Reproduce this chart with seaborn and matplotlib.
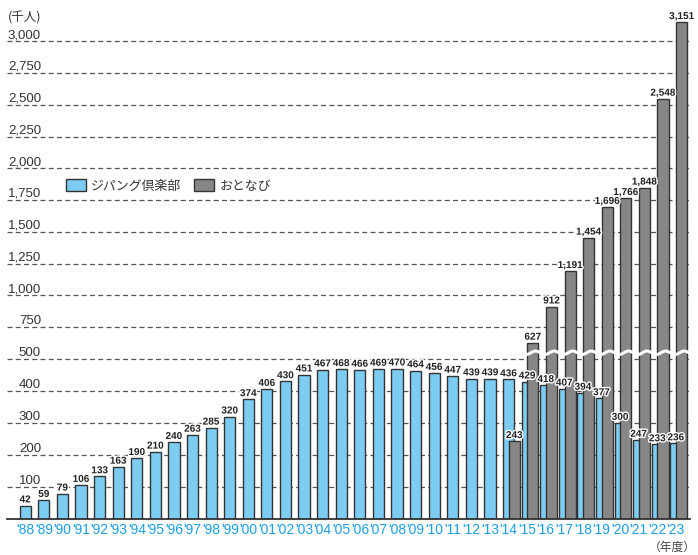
import numpy as np
import pandas as pd
import seaborn as sns
import matplotlib.pyplot as plt
import matplotlib.patheffects as pe
from matplotlib.patches import Patch
from matplotlib.ticker import NullLocator

# datos
anios = ["'88", "'89", "'90", "'91", "'92", "'93", "'94", "'95", "'96", "'97", "'98", "'99",
         "'00", "'01", "'02", "'03", "'04", "'05", "'06", "'07", "'08", "'09", "'10", "'11",
         "'12", "'13", "'14", "'15", "'16", "'17", "'18", "'19", "'20", "'21", "'22", "'23"]
zipangu = [42, 59, 79, 106, 133, 163, 190, 210, 240, 263, 285, 320,
           374, 406, 430, 451, 467, 468, 466, 469, 470, 464, 456, 447, 439, 439,
           436, 429, 418, 407, 394, 377, 300, 247, 233, 236]
otonabi_anios = ["'14", "'15", "'16", "'17", "'18", "'19", "'20", "'21", "'22", "'23"]
otonabi = [243, 627, 912, 1191, 1454, 1696, 1766, 1848, 2548, 3151]
ticks_y = [100, 200, 300, 400, 500, 750, 1000, 1250, 1500, 1750, 2000, 2250, 2500, 2750, 3000]

AZUL = '#7dcdf2'
GRIS = '#878787'
BORDE = '#333333'
ESTRECHA = ['Liberation Sans Narrow', 'Liberation Sans']
CJK = ['Noto Sans CJK JP', 'DejaVu Sans']

sns.set_style("white")
plt.rcParams['font.family'] = ['Liberation Sans', 'Noto Sans CJK JP']

# eje partido: 0-500 normal, arriba de 500 comprimido
K = 0.397
def adelante(v):
    v = np.asarray(v, dtype=float)
    return np.where(v <= 500, v, 500 + (v - 500) * K)

def inversa(t):
    t = np.asarray(t, dtype=float)
    return np.where(t <= 500, t, 500 + (t - 500) / K)

x_azul = np.arange(len(anios), dtype=float)
inicio = anios.index(otonabi_anios[0])
x_gris = x_azul[inicio:] + 0.31

df_z = pd.DataFrame({'x': x_azul, 'v': zipangu})
df_o = pd.DataFrame({'x': x_gris, 'v': otonabi})

fig = plt.figure(figsize=(6.98, 5.55), dpi=100)
ax = fig.add_axes([7 / 698, 36 / 555, 683 / 698, 503 / 555])

sns.barplot(data=df_z, x='x', y='v', native_scale=True, orient='x', width=0.6,
            color=AZUL, saturation=1, edgecolor=BORDE, linewidth=1.0, ax=ax)
sns.barplot(data=df_o, x='x', y='v', native_scale=True, orient='x', width=0.6,
            color=GRIS, saturation=1, edgecolor=BORDE, linewidth=1.0, ax=ax)

ax.set_yscale('function', functions=(adelante, inversa))
ax.set_ylim(0, 3200)
ax.set_xlim(-0.98, 35.76)
ax.set_xlabel('')
ax.set_ylabel('')

ax.set_yticks(ticks_y)
ax.yaxis.set_minor_locator(NullLocator())
ax.tick_params(axis='y', length=0, labelleft=False)
ax.yaxis.grid(True, linestyle=(0, (4, 2.6)), color='#555555', linewidth=0.9)
ax.xaxis.grid(False)
ax.set_axisbelow(True)

for lado in ['left', 'top', 'right']:
    ax.spines[lado].set_visible(False)
ax.spines['bottom'].set_color(BORDE)
ax.spines['bottom'].set_linewidth(1.3)

ax.set_xticks(x_azul, anios)
ax.tick_params(axis='x', length=0, pad=3, labelcolor='#1a9fe3', labelsize=10)
for t in ax.get_xticklabels():
    t.set_fontfamily(ESTRECHA)

# etiquetas del eje y encima de las lineas
for tk in ticks_y:
    ax.annotate(f"{tk:,}", xy=(0.0498, tk), xycoords=ax.get_yaxis_transform(),
                xytext=(0, 2.4), textcoords='offset points', ha='right', va='baseline',
                fontsize=9.5, color='#333333')

# linea ondulada de corte
xs = np.linspace(x_gris[1] - 0.35, 35.76, 400)
ax.plot(xs, 549 + 14 * np.sin(2 * np.pi * (xs - 0.2)), color='white', linewidth=2.2,
        zorder=4, solid_capstyle='butt')

halo = [pe.withStroke(linewidth=2.0, foreground='white')]
for xi, v in zip(x_azul, zipangu):
    ax.annotate(f"{v:,}", xy=(xi, v), xytext=(0, 2.3), textcoords='offset points',
                ha='center', va='baseline', fontsize=7.2, fontweight='bold',
                family=ESTRECHA, color='#222222', path_effects=halo, zorder=6)
for xi, v in zip(x_gris, otonabi):
    ax.annotate(f"{v:,}", xy=(xi, v), xytext=(0, 2.3), textcoords='offset points',
                ha='center', va='baseline', fontsize=7.2, fontweight='bold',
                family=ESTRECHA, color='#222222', path_effects=halo, zorder=6)

fig.text(8 / 698, 1 - 18 / 555, '(千人)', family=CJK, fontsize=9, color='#333333',
         ha='left', va='center')
fig.text(696 / 698, 1 - 547 / 555, '（年度）', family=CJK, fontsize=8.5, color='#444444',
         ha='right', va='center')

manejadores = [Patch(facecolor=AZUL, edgecolor=BORDE, linewidth=1.0, label='ジパング倶楽部'),
               Patch(facecolor=GRIS, edgecolor=BORDE, linewidth=1.0, label='おとなび')]
fig.legend(handles=manejadores, loc='center left', bbox_to_anchor=(66 / 698, 1 - 186 / 555),
           ncol=2, frameon=False, prop={'family': CJK, 'size': 9.3}, labelcolor='#333333',
           handlelength=1.55, handleheight=0.95, handletextpad=0.4, columnspacing=1.0,
           borderpad=0, borderaxespad=0)

plt.savefig('out.png', dpi=100)
